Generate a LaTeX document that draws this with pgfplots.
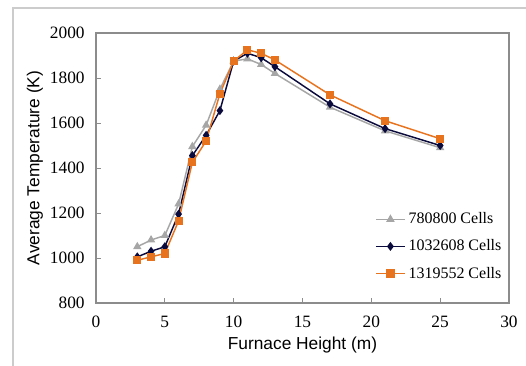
\documentclass[border=0pt]{standalone}
\usepackage{pgfplots}
\pgfplotsset{compat=1.18}
\usepackage{fontspec}
\setmainfont{Liberation Serif}
\newfontfamily\arialf{Liberation Sans}
\definecolor{sgray}{HTML}{A6A6A6}
\definecolor{snavy}{HTML}{0A0A3C}
\definecolor{sorange}{HTML}{E8731E}
\definecolor{framec}{HTML}{8C8C8C}
\begin{document}
\begin{tikzpicture}
\useasboundingbox (0pt,0pt) rectangle (394.5pt,274.5pt);
\draw[gray!40, line width=0.8pt] (9.75pt,-8pt) rectangle (405pt,268.5pt);
\begin{axis}[
  at={(72pt,47.25pt)}, anchor=south west,
  scale only axis, width=309.75pt, height=202.5pt,
  xmin=0, xmax=30, ymin=800, ymax=2000,
  xtick={0,5,...,30}, ytick={800,1000,...,2000},
  tick align=inside, xtick pos=bottom, ytick pos=left,
  major tick length=4pt,
  axis line style={framec, line width=0.8pt},
  every tick/.style={framec, line width=0.6pt},
  /pgf/number format/assume math mode=true,
  /pgf/number format/1000 sep={},
  ticklabel style={font=\fontsize{13}{15}\selectfont},
  xticklabel style={yshift=-6pt},
  yticklabel style={xshift=-5pt},
  xlabel={\arialf Furnace Height (m)},
  ylabel={\arialf Average Temperature (K)},
  label style={font=\fontsize{13}{15}\selectfont},
  xlabel style={at={(axis description cs:0.5,-0.1556)}, anchor=center},
  ylabel style={at={(axis description cs:-0.148,0.5)}, anchor=center},
  legend style={at={(0.675,0.345)}, anchor=north west, draw=none, fill=none,
     font=\fontsize{12}{14}\selectfont, row sep=6.5pt, inner sep=0pt},
  legend cell align=left,
  legend image code/.code={
     \draw[#1, mark=none] (0pt,0pt) -- (22pt,0pt);
     \draw[#1, only marks] plot coordinates {(11pt,0pt)};},
]
\addplot[sgray, line width=1.1pt, mark=triangle*, mark size=2.6pt, mark options={fill=sgray, draw=sgray}] coordinates {
(3,1050)(4,1080)(5,1100)(6,1240)(7,1495)(8,1590)(9,1750)(10,1875)(11,1885)(12,1860)(13,1820)(17,1670)(21,1565)(25,1490)};
\addlegendentry{780800 Cells}
\addplot[snavy, line width=1.1pt, mark=diamond*, mark size=2.5pt, mark options={fill=snavy, draw=snavy}] coordinates {
(3,1005)(4,1030)(5,1050)(6,1195)(7,1455)(8,1545)(9,1655)(10,1875)(11,1910)(12,1890)(13,1850)(17,1685)(21,1575)(25,1500)};
\addlegendentry{1032608 Cells}
\addplot[sorange, line width=1.1pt, mark=square*, mark size=2.5pt, mark options={fill=sorange, draw=sorange}] coordinates {
(3,990)(4,1005)(5,1020)(6,1165)(7,1425)(8,1520)(9,1730)(10,1875)(11,1925)(12,1910)(13,1880)(17,1725)(21,1610)(25,1530)};
\addlegendentry{1319552 Cells}
\end{axis}
\end{tikzpicture}
\end{document}
